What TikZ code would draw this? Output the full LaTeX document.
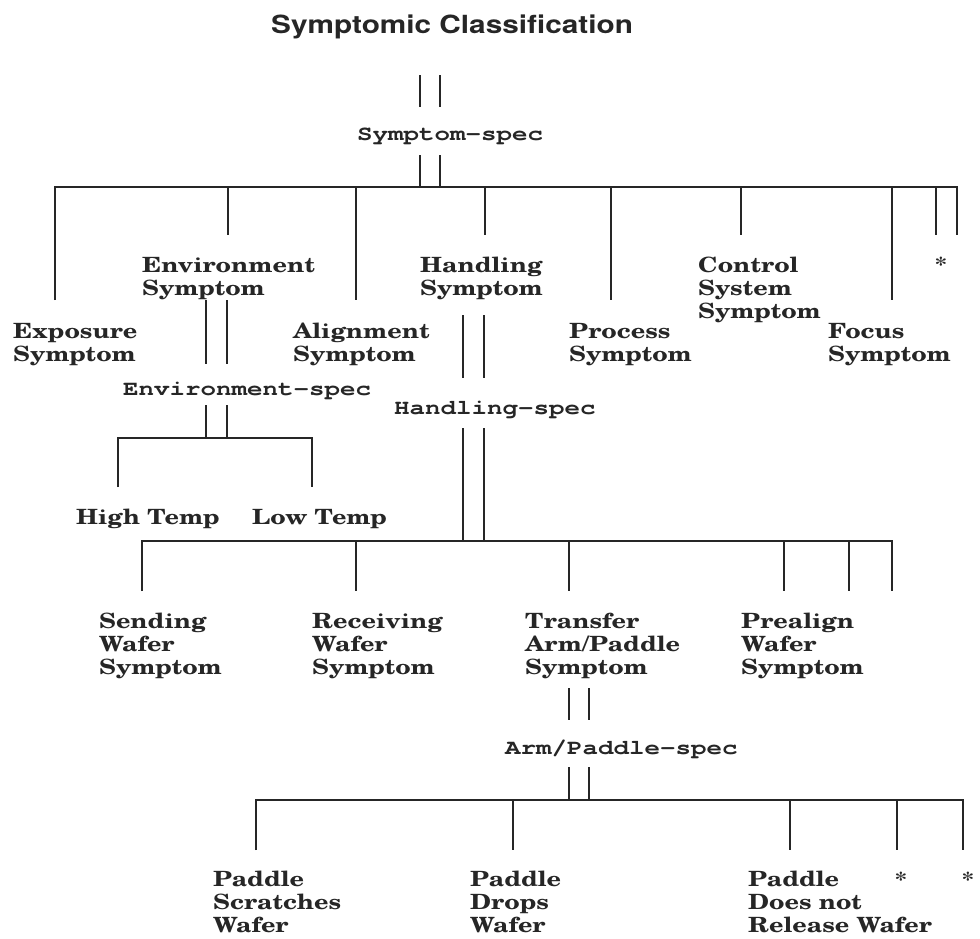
\documentclass[tikz,border=0pt]{standalone}
\usepackage{fontspec}
\newfontfamily\labfont{texgyreschola-bold.otf}[FakeStretch=1.2]
\newfontfamily\monfont{texgyrecursor-bold.otf}[FakeStretch=1.23]
\newfontfamily\ttlfont{texgyreheros-bold.otf}[FakeStretch=1.19]
\definecolor{ink}{HTML}{262626}
\tikzset{
  lab/.style={font=\labfont\fontsize{21}{22.8}\selectfont, text=ink, inner sep=0pt, align=left, anchor=base west},
  spec/.style={font=\monfont\fontsize{21}{24}\selectfont, text=ink, inner sep=0pt, anchor=base west},
  star/.style={font=\labfont\fontsize{21}{22.8}\selectfont, text=ink, inner sep=0pt, anchor=base},
  wire/.style={draw=ink, line width=1.8pt, line join=miter},
}
\begin{document}
\begin{tikzpicture}[x=1pt,y=-1pt]
\useasboundingbox[fill=white] (0,0) rectangle (980,938);
% title
\node[font=\ttlfont\fontsize{25}{30}\selectfont, text=ink, inner sep=0pt, anchor=base west] (title) at (271,33) {Symptomic Classification};
% spec labels
\node[spec] (sspec) at (357,140) {Symptom-spec};
\node[spec] (espec) at (123,395) {Environment-spec};
\node[spec] (hspec) at (394,414) {Handling-spec};
\node[spec] (aspec) at (505,754) {Arm/Paddle-spec};
% level 1 labels (anchor = baseline of the last line)
\node[lab] (exp) at (13,361) {Exposure\\Symptom};
\node[lab] (env) at (142,295) {Environment\\Symptom};
\node[lab] (ali) at (293,361) {Alignment\\Symptom};
\node[lab] (han) at (420,295) {Handling\\Symptom};
\node[lab] (pro) at (569,361) {Process\\Symptom};
\node[lab] (con) at (698,318) {Control\\System\\Symptom};
\node[lab] (foc) at (828,361) {Focus\\Symptom};
\node[star] (st1) at (941,272) {*};
% environment children
\node[lab] (hi) at (76,524) {High Temp};
\node[lab] (lo) at (252,524) {Low Temp};
% handling children
\node[lab] (sen) at (99,674) {Sending\\Wafer\\Symptom};
\node[lab] (rec) at (312,674) {Receiving\\Wafer\\Symptom};
\node[lab] (tra) at (525,674) {Transfer\\Arm/Paddle\\Symptom};
\node[lab] (pre) at (741,674) {Prealign\\Wafer\\Symptom};
% arm/paddle children
\node[lab] (pd1) at (213,932) {Paddle\\Scratches\\Wafer};
\node[lab] (pd2) at (470,932) {Paddle\\Drops\\Wafer};
\node[lab] (pd3) at (748,932) {Paddle\\Does not\\Release Wafer};
\node[star] (st2) at (901,887) {*};
\node[star] (st3) at (968,887) {*};
% connector end points
\foreach \n/\x/\y in {
  t1a/420/75, t1b/420/107, t2a/440/75, t2b/440/107,
  t3a/420/155, t3b/420/187, t4a/440/155, t4b/440/187,
  k1a/55/300, k1b/55/187, k1c/957/187, k1d/957/235,
  d1a/228/187, d1b/228/235, d2a/356/187, d2b/356/300,
  d3a/485/187, d3b/485/235, d4a/611/187, d4b/611/300,
  d5a/741/187, d5b/741/235, d6a/892/187, d6b/892/300,
  d7a/936/187, d7b/936/235,
  e1a/206/300, e1b/206/364, e2a/227/300, e2b/227/364,
  e3a/206/405, e3b/206/438, e4a/227/405, e4b/227/438,
  k2a/118/487, k2b/118/438, k2c/312/438, k2d/312/487,
  h1a/463/315, h1b/463/378, h2a/484/315, h2b/484/378,
  h3a/463/428, h3b/463/541, h4a/484/428, h4b/484/541,
  k3a/142/591, k3b/142/541, k3c/892/541, k3d/892/591,
  f1a/356/541, f1b/356/591, f2a/569/541, f2b/569/591,
  f3a/784/541, f3b/784/591, f4a/849/541, f4b/849/591,
  r1a/569/688, r1b/569/720, r2a/589/688, r2b/589/720,
  r3a/569/767, r3b/569/800, r4a/589/767, r4b/589/800,
  k4a/256/850, k4b/256/800, k4c/963/800, k4d/963/850,
  g1a/513/800, g1b/513/850, g2a/790/800, g2b/790/850,
  g3a/897/800, g3b/897/850}
  \coordinate (\n) at (\x,\y);
% buses
\foreach \k in {k1,k2,k3,k4}
  \draw[wire] (\k a) -- (\k b) -- (\k c) -- (\k d);
% single and double connectors
\foreach \p in {t1,t2,t3,t4,d1,d2,d3,d4,d5,d6,d7,e1,e2,e3,e4,h1,h2,h3,h4,f1,f2,f3,f4,r1,r2,r3,r4,g1,g2,g3}
  \draw[wire] (\p a) -- (\p b);
\end{tikzpicture}
\end{document}
